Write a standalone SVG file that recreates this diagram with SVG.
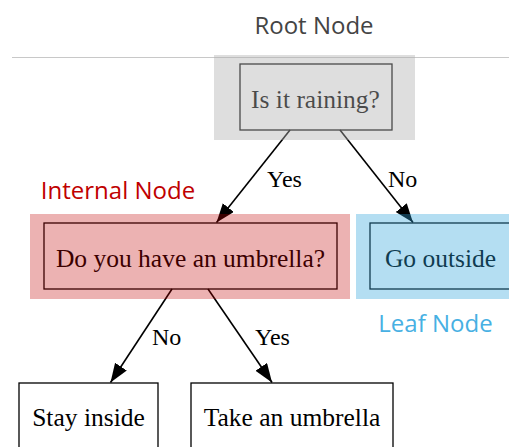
<svg xmlns="http://www.w3.org/2000/svg" width="509" height="447" viewBox="0 0 509 447">
  <style>
    .box { fill: #ffffff; stroke: #000000; stroke-width: 1.3; }
    .nodetext { font-family: "Liberation Serif", "Times New Roman", serif; font-size: 25.5px; fill: #000000; text-anchor: middle; }
    .edge { fill: none; stroke: #000000; stroke-width: 1.6; }
    .edgelabel { font-family: "Liberation Serif", "Times New Roman", serif; font-size: 24px; fill: #000000; }
    .caption { font-family: "Open Sans", "DejaVu Sans", sans-serif; font-size: 24px; text-anchor: middle; }
  </style>
  <defs>
    <marker id="arrow" markerUnits="userSpaceOnUse" markerWidth="20" markerHeight="15" refX="19" refY="7" orient="auto">
      <path d="M0,0 L19,7 L0,14 z" fill="#000000"/>
    </marker>
  </defs>

  <rect width="509" height="447" fill="#ffffff"/>

  <!-- separator under the heading -->
  <line x1="12" y1="57.5" x2="509" y2="57.5" stroke="#c8c8c8" stroke-width="1"/>
  <text class="caption" x="314" y="34" fill="#444444">Root Node</text>

  <!-- decision nodes -->
  <g id="node-raining">
    <rect class="box" x="240" y="64" width="152" height="66"/>
    <text class="nodetext" x="315.5" y="108">Is it raining?</text>
  </g>
  <g id="node-umbrella-question">
    <rect class="box" x="44" y="223" width="293" height="66"/>
    <text class="nodetext" x="190.5" y="267">Do you have an umbrella?</text>
  </g>
  <g id="node-go-outside">
    <rect class="box" x="370" y="223" width="141" height="66"/>
    <text class="nodetext" x="440.5" y="267">Go outside</text>
  </g>
  <g id="node-stay-inside">
    <rect class="box" x="19" y="383" width="139" height="66"/>
    <text class="nodetext" x="88.5" y="426">Stay inside</text>
  </g>
  <g id="node-take-umbrella">
    <rect class="box" x="191" y="383" width="202" height="66"/>
    <text class="nodetext" x="292" y="426">Take an umbrella</text>
  </g>

  <!-- connectors -->
  <g id="edges">
    <path class="edge" d="M290,130 L216.5,222.5" marker-end="url(#arrow)"/>
    <text class="edgelabel" x="267" y="187">Yes</text>
    <path class="edge" d="M340,130 L413,222.5" marker-end="url(#arrow)"/>
    <text class="edgelabel" x="388" y="187">No</text>
    <path class="edge" d="M172,289 L110.5,382.5" marker-end="url(#arrow)"/>
    <text class="edgelabel" x="152" y="345">No</text>
    <path class="edge" d="M208,289 L272,382.5" marker-end="url(#arrow)"/>
    <text class="edgelabel" x="255" y="345">Yes</text>
  </g>

  <!-- translucent highlight bands -->
  <g id="highlight-root">
    <rect x="214" y="55" width="201" height="85" fill="#b0b0b0" fill-opacity="0.42"/>
  </g>
  <g id="highlight-internal">
    <rect x="30" y="214" width="320" height="85" fill="#c00000" fill-opacity="0.3"/>
    <text class="caption" x="118" y="199" fill="#c00000">Internal Node</text>
  </g>
  <g id="highlight-leaf">
    <rect x="356" y="214" width="160" height="85" fill="#2ea3db" fill-opacity="0.36"/>
    <text class="caption" x="435.5" y="332" fill="#47b0e3">Leaf Node</text>
  </g>
</svg>
